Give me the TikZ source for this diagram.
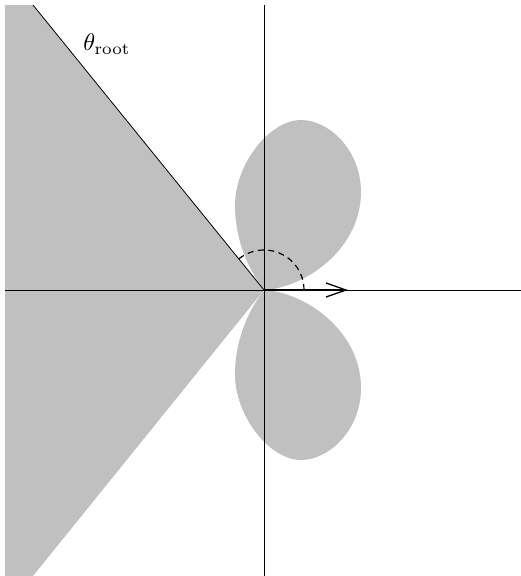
\documentclass[tikz,border=0pt]{standalone}
\usetikzlibrary{arrows.meta}
\definecolor{lobegray}{RGB}{192,192,192}
\begin{document}
\begin{tikzpicture}[x=1pt,y=-1pt,
  axis/.style={line width=0.8pt},
  rootline/.style={line width=0.8pt},
  anglearc/.style={line width=1.2pt, dash pattern=on 6pt off 4.5pt},
  vec/.style={line width=2.6pt, -{Straight Barb[length=20pt,width=14pt,line width=1.3pt]}},
  lobe/.style={fill=lobegray}]
\useasboundingbox (0,0) rectangle (521,576);
\coordinate (O) at (264,290);
\coordinate (L) at (5,290);
\coordinate (R) at (521,290);
\coordinate (T) at (264,5);
\coordinate (B) at (264,576);
\coordinate (RT) at (33,5);
\coordinate (RB) at (33,576);
\coordinate (A) at (304,290);
\coordinate (V) at (348,290);
% wedge
\fill[lobegray] (5,5) -- (RT) -- (O) -- (RB) -- (5,576) -- cycle;
% lobes
\begin{scope}[shift={(O)}, yscale=-1]
  \fill[lobe] (0,0) .. controls (40,2) and (97,40) .. (97,98)
    .. controls (97,140) and (65,170) .. (37,170)
    .. controls (5,170) and (-29,125) .. (-29,85)
    .. controls (-29,45) and (-12,16) .. (0,0) -- cycle;
\end{scope}
\begin{scope}[shift={(O)}]
  \fill[lobe] (0,0) .. controls (40,2) and (97,40) .. (97,98)
    .. controls (97,140) and (65,170) .. (37,170)
    .. controls (5,170) and (-29,125) .. (-29,85)
    .. controls (-29,45) and (-12,16) .. (0,0) -- cycle;
\end{scope}
% axes
\draw[axis] (L) -- (R);
\draw[axis] (T) -- (B);
% root line
\draw[rootline] (RT) -- (O);
% angle arc
\draw[anglearc] (A) arc[start angle=0, end angle=-129, radius=40];
% vector
\draw[vec] (O) -- (V);
% label
\node[scale=2.4] (lbl) at (107,44) {$\theta_{\mathrm{root}}$};
\end{tikzpicture}
\end{document}
